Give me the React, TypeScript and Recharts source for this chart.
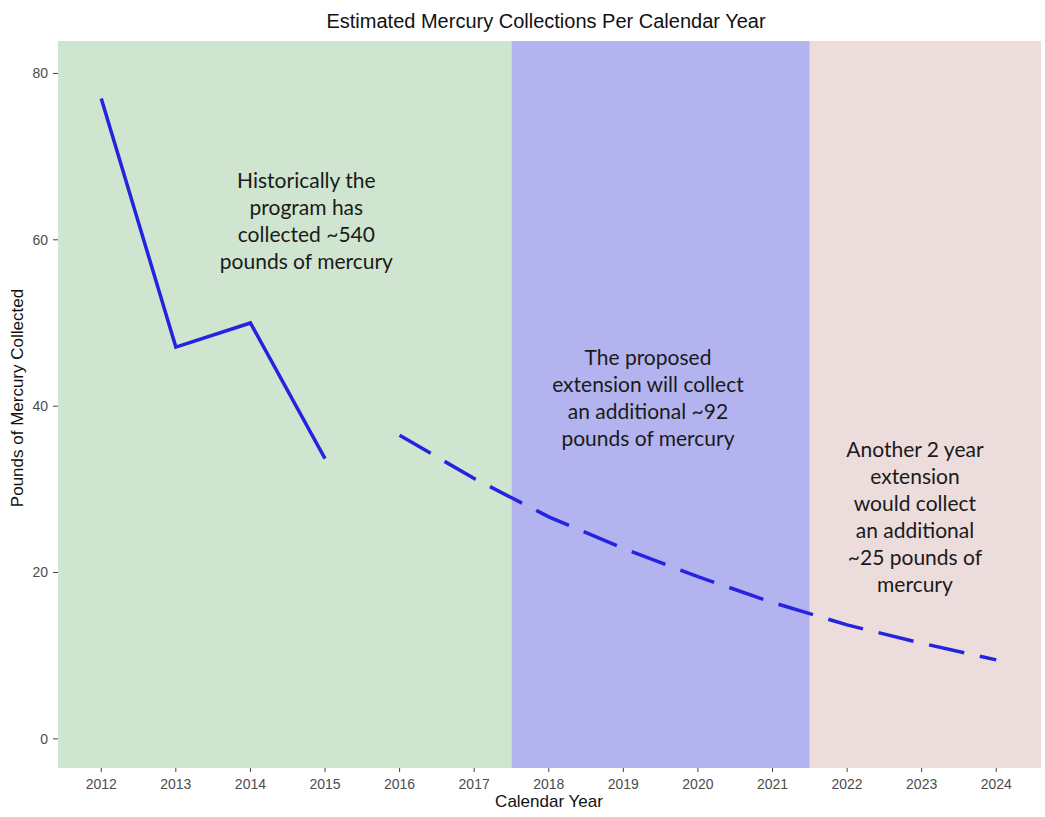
import React from 'react';
import { ComposedChart, Line, XAxis, YAxis, ReferenceArea, ReferenceDot } from 'recharts';

// ---- data ----
const years = [2012, 2013, 2014, 2015, 2016, 2017, 2018, 2019, 2020, 2021, 2022, 2023, 2024];
const historical: (number | null)[] = [77, 47.1, 50, 33.7, null, null, null, null, null, null, null, null, null];
const projected: (number | null)[] = [null, null, null, null, 36.5, 31.3, 26.7, 22.9, 19.5, 16.4, 13.7, 11.5, 9.5];
const yTicks = [0, 20, 40, 60, 80];
const xDomain: [number, number] = [2011.42, 2024.6];
const yDomain: [number, number] = [-3.5, 83.9];

const periodStarts = [2011.42, 2017.5, 2021.5];
const periodEnds = [2017.5, 2021.5, 2024.6];
const periodColors = ['#cfe5cf', '#b3b4ef', '#ecdcdb'];

const noteX = [2014.75, 2019.33, 2022.91];
const noteY = [62.3, 41.0, 26.6];
const noteLines = [
  ['Historically the', 'program has', 'collected ~540', 'pounds of mercury'],
  ['The proposed', 'extension will collect', 'an additional ~92', 'pounds of mercury'],
  ['Another 2 year', 'extension', 'would collect', 'an additional', '~25 pounds of', 'mercury'],
];

const title = 'Estimated Mercury Collections Per Calendar Year';
const xTitle = 'Calendar Year';
const yTitle = 'Pounds of Mercury Collected';

const table = years.map((year, i) => ({ year, historical: historical[i], projected: projected[i] }));

const AXIS_FONT = '"Liberation Sans", Arial, Helvetica, sans-serif';
const NOTE_FONT = 'Lato, "Open Sans", sans-serif';
const LINE_COLOR = '#2424e0';

const renderNote = (lines: string[]) => (props: any) => {
  const vb = props.viewBox || {};
  const cx = (vb.x ?? 0) + (vb.width ?? 0) / 2;
  const cy = (vb.y ?? 0) + (vb.height ?? 0) / 2;
  const lh = 27;
  const startY = cy - ((lines.length - 1) * lh) / 2;
  return (
    <text textAnchor="middle" fontFamily={NOTE_FONT} fontSize={21} fill="#1a1a1a">
      {lines.map((l, i) => (
        <tspan key={i} x={cx} y={startY + i * lh} dy="0.35em">
          {l}
        </tspan>
      ))}
    </text>
  );
};

export default function App() {
  return (
    <div style={{ position: 'absolute', left: 0, top: 0, width: 1045, height: 817, background: '#fff' }}>
      <div
        style={{
          position: 'absolute',
          left: 46,
          top: 9,
          width: 1000,
          textAlign: 'center',
          fontFamily: AXIS_FONT,
          fontSize: 20,
          lineHeight: '24px',
          color: '#111',
        }}
      >
        {title}
      </div>
      <div
        style={{
          position: 'absolute',
          left: 49,
          top: 792,
          width: 1000,
          textAlign: 'center',
          fontFamily: AXIS_FONT,
          fontSize: 17,
          lineHeight: '20px',
          color: '#111',
        }}
      >
        {xTitle}
      </div>
      <div
        style={{
          position: 'absolute',
          left: 18 - 200,
          top: 398 - 11,
          width: 400,
          height: 22,
          textAlign: 'center',
          fontFamily: AXIS_FONT,
          fontSize: 17,
          lineHeight: '22px',
          color: '#111',
          transform: 'rotate(-90deg)',
          transformOrigin: '200px 11px',
        }}
      >
        {yTitle}
      </div>
      <div style={{ position: 'absolute', left: 0, top: 0 }}>
        <ComposedChart
          width={1045}
          height={817}
          data={table}
          margin={{ top: 41, right: 4, bottom: 0, left: 0 }}
        >
          <XAxis
            type="number"
            dataKey="year"
            domain={xDomain}
            ticks={years}
            allowDataOverflow
            axisLine={false}
            tickLine={{ stroke: '#444' }}
            tickSize={4}
            tickMargin={7}
            height={49}
            interval={0}
            tick={{ fill: '#4d4d4d', fontSize: 14, fontFamily: AXIS_FONT }}
          />
          <YAxis
            type="number"
            domain={yDomain}
            ticks={yTicks}
            allowDataOverflow
            axisLine={false}
            tickLine={{ stroke: '#444' }}
            tickSize={5}
            tickMargin={5}
            width={58}
            interval={0}
            tick={{ fill: '#4d4d4d', fontSize: 14, fontFamily: AXIS_FONT }}
          />
          {periodStarts.map((s, i) => (
            <ReferenceArea
              key={'p' + i}
              x1={s}
              x2={periodEnds[i]}
              y1={yDomain[0]}
              y2={yDomain[1]}
              fill={periodColors[i]}
              fillOpacity={1}
              stroke="none"
              ifOverflow="hidden"
            />
          ))}
          <Line
            type="linear"
            dataKey="historical"
            stroke={LINE_COLOR}
            strokeWidth={3.5}
            dot={false}
            activeDot={false}
            connectNulls={false}
            isAnimationActive={false}
          />
          <Line
            type="linear"
            dataKey="projected"
            stroke={LINE_COLOR}
            strokeWidth={3.5}
            strokeDasharray="36 16"
            dot={false}
            activeDot={false}
            connectNulls={false}
            isAnimationActive={false}
          />
          {noteX.map((x, i) => (
            <ReferenceDot
              key={'n' + i}
              x={x}
              y={noteY[i]}
              r={1}
              fill="none"
              stroke="none"
              label={renderNote(noteLines[i])}
            />
          ))}
        </ComposedChart>
      </div>
    </div>
  );
}
